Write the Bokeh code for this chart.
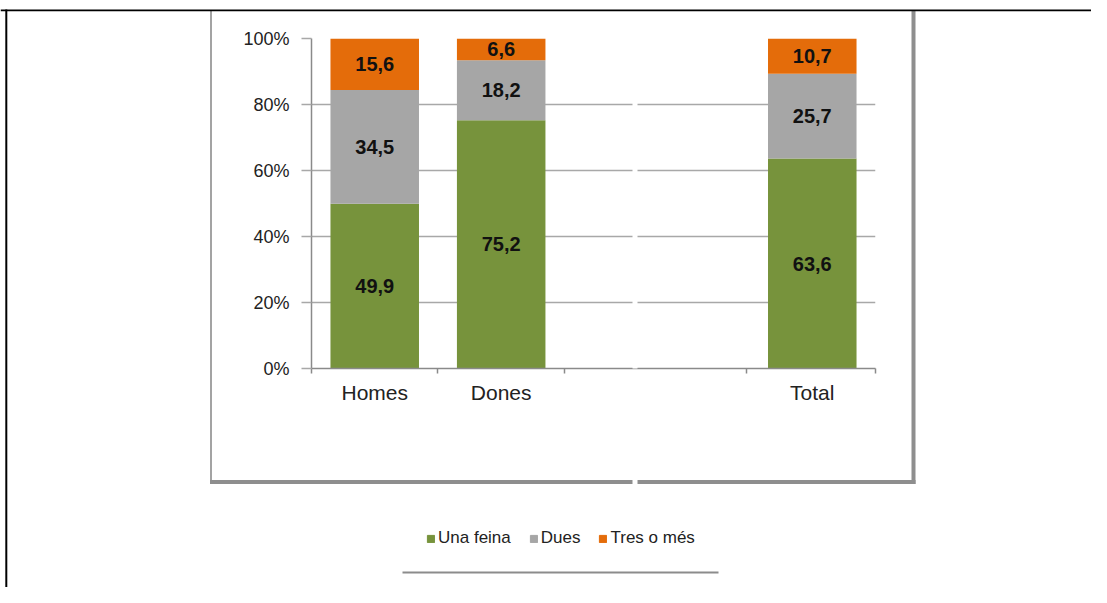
from bokeh.plotting import figure
from bokeh.layouts import column
from bokeh.models import (Range1d, FixedTicker, BoxAnnotation, Legend, LegendItem,
                          ColumnDataSource)
from bokeh.embed import file_html
from bokeh.resources import INLINE
from bokeh.core.properties import value

# ---------------- data ----------------
categories = ["Homes", "Dones", "Total"]
una_feina = [49.9, 75.2, 63.6]
dues = [34.5, 18.2, 25.7]
tres_o_mes = [15.6, 6.6, 10.7]
series_names = ["Una feina", "Dues", "Tres o més"]
y_ticks = [0, 20, 40, 60, 80, 100]
y_tick_labels = ["0%", "20%", "40%", "60%", "80%", "100%"]

# ---------------- layout / style ----------------
x_pos = [0.0, 1.0, 3.46]                 # category centres on the x axis
x_bounds = [-0.5, 0.5, 1.5, 2.94, 3.96]  # category separator ticks
colors = ["#77933c", "#a6a6a6", "#e46c0a"]
FONT = "Liberation Sans"
W, H = 1091, 587

# ---------- background figure: page decorations + legend ----------
bg = figure(width=W, height=H, output_backend="svg", toolbar_location=None,
            x_range=Range1d(0, W), y_range=Range1d(H, 0),
            x_axis_type=None, y_axis_type=None,
            min_border=0, min_border_left=0, min_border_right=0,
            min_border_top=0, min_border_bottom=0)
bg.frame_align = False
bg.outline_line_color = None
bg.background_fill_color = "white"
bg.border_fill_color = "white"
bg.grid.visible = False

def strip(l, r, t, b, color):
    return BoxAnnotation(left=l, right=r, top=t, bottom=b, fill_color=color,
                         fill_alpha=1, line_color=None, line_alpha=0)

# chart box with its shadowed right / bottom edges
bg.add_layout(strip(209.5, 211.5, 10, 483, "#a3a3a3"))
bg.add_layout(strip(911, 915, 10, 483.5, "#8e8e8e"))
bg.add_layout(strip(209.5, 915, 479.5, 483.5, "#8e8e8e"))
# break where the chart image was stitched
bg.add_layout(strip(632, 637, 12, 488, "white"))
# page rules
bg.add_layout(strip(0, W, 9, 10.8, "black"))
bg.add_layout(strip(4.8, 6.8, 9, H, "black"))
bg.add_layout(strip(402, 718, 571, 573, "#8c8c8c"))

# legend proxies (hidden renderers, legend swatches only)
swatches = [bg.rect(x=[0], y=[0], width=[1], height=[1], color=c, visible=False)
            for c in colors]
legend = Legend(items=[LegendItem(label=n, renderers=[r])
                       for n, r in zip(series_names, swatches)],
                orientation="horizontal", location=(426, 39),
                glyph_width=9, glyph_height=9, label_standoff=3, spacing=18,
                padding=0, margin=0, border_line_color=None,
                background_fill_alpha=0, label_height=20,
                inactive_fill_alpha=0,
                label_text_font=FONT, label_text_font_size="17px",
                label_text_color="#222222")
bg.add_layout(legend, "center")

# ---------------- main chart ----------------
p = figure(width=W, height=H, output_backend="svg", toolbar_location=None,
           x_range=Range1d(-0.5, 3.96), y_range=Range1d(0, 100),
           min_border_left=311, min_border_right=W - 875,
           min_border_top=38, min_border_bottom=H - 368)
p.frame_align = False
p.outline_line_color = None
p.background_fill_alpha = 0
p.border_fill_alpha = 0
p.styles = {"margin-top": f"-{H}px"}

src = ColumnDataSource(data={"x": x_pos, series_names[0]: una_feina,
                             series_names[1]: dues, series_names[2]: tres_o_mes})
p.vbar_stack(series_names, x="x", width=0.7, color=colors, line_color=None, source=src)

# value labels (centred in each segment)
lx, ly, lt = [], [], []
for i, xv in enumerate(x_pos):
    base = 0.0
    for vals in (una_feina, dues, tres_o_mes):
        v = vals[i]
        lx.append(xv)
        ly.append(base + v / 2.0)
        lt.append(f"{v:.1f}".replace(".", ","))
        base += v
p.text(x=lx, y=ly, text=lt, text_font=value(FONT), text_font_style="bold",
       text_font_size="20px", text_color="#111111", text_align="center",
       text_baseline="middle")

# axes and grid
p.xgrid.grid_line_color = None
p.ygrid.grid_line_color = "#a8a8a8"
p.ygrid.grid_line_width = 1.5

p.yaxis.ticker = FixedTicker(ticks=y_ticks)
p.yaxis.major_label_overrides = {t: l for t, l in zip(y_ticks, y_tick_labels)}
p.yaxis.axis_line_color = "#8a8a8a"
p.yaxis.axis_line_width = 1.5
p.yaxis.major_tick_line_color = "#a8a8a8"
p.yaxis.major_tick_line_width = 1.5
p.yaxis.major_tick_out = 10
p.yaxis.major_tick_in = 0
p.yaxis.minor_tick_line_color = None
p.yaxis.major_label_standoff = 12
p.yaxis.major_label_text_font = FONT
p.yaxis.major_label_text_font_size = "18px"
p.yaxis.major_label_text_color = "#222222"

p.xaxis.ticker = FixedTicker(ticks=x_pos, minor_ticks=x_bounds)
p.xaxis.major_label_overrides = {t: c for t, c in zip(x_pos, categories)}
p.xaxis.axis_line_color = "#8a8a8a"
p.xaxis.axis_line_width = 1.5
p.xaxis.major_tick_line_color = None
p.xaxis.major_tick_out = 0
p.xaxis.major_tick_in = 0
p.xaxis.minor_tick_line_color = "#8a8a8a"
p.xaxis.minor_tick_line_width = 1.5
p.xaxis.minor_tick_out = 5
p.xaxis.minor_tick_in = 0
p.xaxis.major_label_standoff = 7
p.xaxis.major_label_text_font = FONT
p.xaxis.major_label_text_font_size = "21px"
p.xaxis.major_label_text_color = "#222222"

# break in the gridlines (stitched chart image)
p.add_layout(BoxAnnotation(left=632, right=637, top=30, bottom=380,
                           left_units="canvas", right_units="canvas",
                           top_units="canvas", bottom_units="canvas",
                           fill_color="white", fill_alpha=1,
                           line_color=None, line_alpha=0))

layout = column(bg, p)
open("out.html", "w").write(file_html(layout, INLINE))
